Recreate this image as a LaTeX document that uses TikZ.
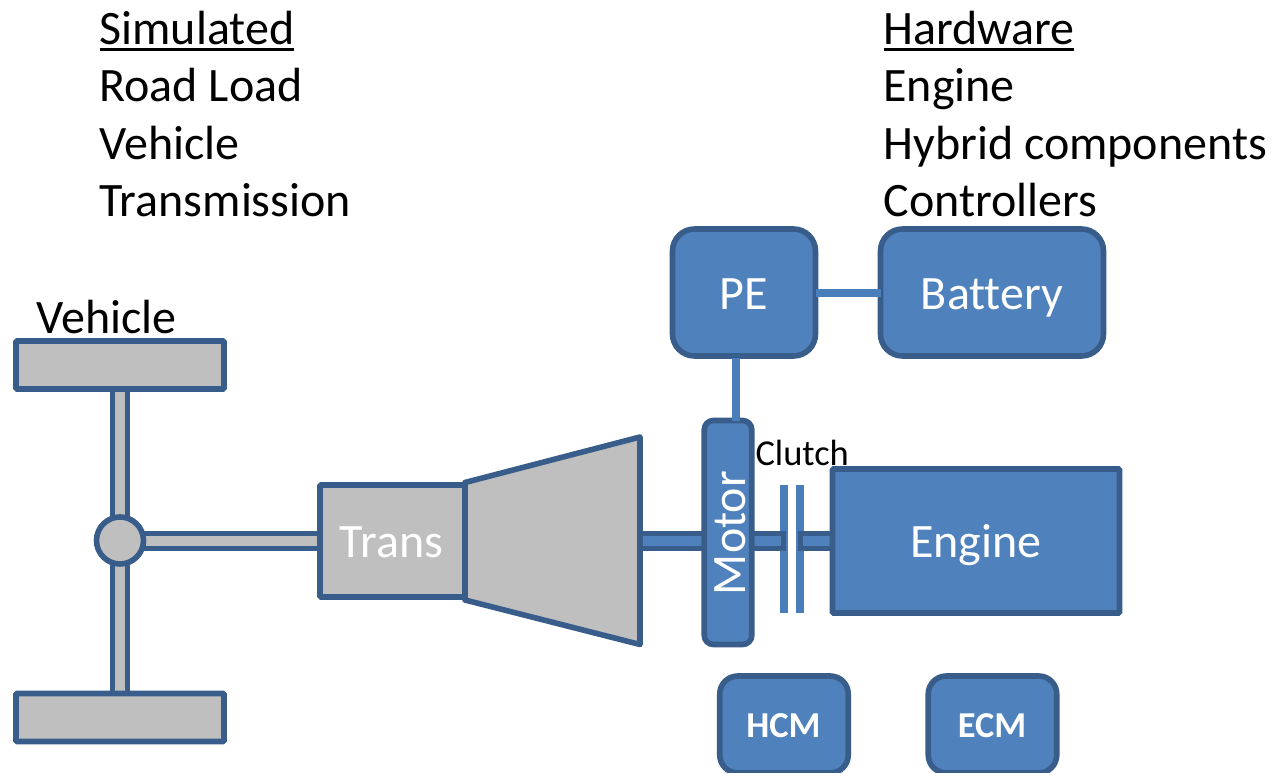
\documentclass[tikz,border=0pt]{standalone}
\usepackage{fontspec}
\setmainfont[Ligatures=NoCommon]{Carlito}
\definecolor{bfill}{HTML}{4F81BD}
\definecolor{bline}{HTML}{385D8A}
\definecolor{bconn}{HTML}{4A7EBB}
\definecolor{gfill}{HTML}{BFBFBF}
\newcommand\ulined[1]{\setbox0=\hbox{#1}\rlap{\rule[-6.5pt]{\wd0}{3pt}}\box0}
\tikzset{
  x=1pt,y=-1pt,
  every node/.style={inner sep=0pt,outer sep=0pt},
  big/.style={font=\fontsize{48}{48}\selectfont},
  txt/.style={big,anchor=base west,text=black},
  wlabel/.style={big,text=white},
  bbox/.style={draw=bline,line width=5.6pt,fill=bfill,rounded corners=22pt},
  gbox/.style={draw=bline,line width=5.6pt,fill=gfill,rounded corners=1pt},
  conn/.style={draw=bconn,line width=8pt},
  gshaft/.style={draw=bline,line width=5.2pt,double=gfill,double distance=10pt},
  bshaft/.style={draw=bline,line width=5.2pt,double=bfill,double distance=10pt,line cap=rect},
  plate/.style={fill=bconn,minimum width=8pt,minimum height=128pt},
  smallbold/.style={text=white,font=\fontsize{36.5}{36.5}\selectfont\bfseries},
}
\begin{document}
\begin{tikzpicture}
\useasboundingbox (0,0) rectangle (1272,773);
% headings and lists
\node[txt] (t1) at (99.5,45) {\ulined{Simulated}};
\node[txt] (t2) at (99.5,102) {Road Load};
\node[txt] (t3) at (99.5,160) {Vehicle};
\node[txt] (t4) at (99.5,216.5) {Transmission};
\node[txt] (h1) at (883.5,45) {\ulined{Hardware}};
\node[txt] (h2) at (883.5,102) {Engine};
\node[txt] (h3) at (883.5,160) {Hybrid components};
\node[txt] (h4) at (883.5,216.5) {Controllers};
\node[txt] (vlab) at (36.5,333) {Vehicle};
% named anchors
\coordinate (coneE) at (640,541);
\coordinate (clL) at (776,541);
\coordinate (clR) at (808,541);
\coordinate (hubC) at (120,540.5);
\coordinate (wtC) at (120,365);
\coordinate (wbC) at (120,717.5);
\coordinate (trC) at (392,541);
% grey shafts under wheels, hub and trans
\draw[gshaft] (wtC) -- (wbC);
\draw[gshaft] (hubC |- trC) -- (trC);
\node[gbox,minimum width=208pt,minimum height=48pt] (wt) at (wtC) {};
\node[gbox,minimum width=208pt,minimum height=48pt] (wb) at (wbC) {};
\node[draw=bline,line width=5.6pt,fill=gfill,circle,minimum size=47pt] (hub) at (hubC) {};
% blue shafts and clutch under the housings
\node[plate] (plA) at (784,549) {};
\node[plate] (plB) at (800,549) {};
\draw[bshaft] (coneE) -- (730,541);
\draw[bshaft] (730,541) -- (clL);
\draw[bshaft] (clR) -- (850,541);
% cone and trans
\draw[draw=bline,line width=5.6pt,fill=gfill,line join=round] (465,482.5) -- (640,437) -- (640,644.5) -- (465,600) -- cycle;
\node[gbox,minimum width=145pt,minimum height=112pt] (trans) at (392.5,541) {};
\node[wlabel] (translab) at (391.5,542) {Trans};
% power electronics
\node[bbox,minimum width=143pt,minimum height=127pt] (pe) at (744,292.5) {};
\node[bbox,minimum width=223pt,minimum height=127pt] (bat) at (992,292.5) {};
\node[draw=bline,line width=5.6pt,fill=bfill,rounded corners=9pt,minimum width=47.5pt,minimum height=224pt] (motor) at (728,532.5) {};
\draw[conn] (736,358) -- (736,421);
\draw[conn] (pe.east |- 0,293) -- (bat.west |- 0,293);
\node[wlabel] (pelab) at (744,294.5) {PE};
\node[wlabel] (batlab) at (992,298) {Battery};
\node[wlabel,rotate=90] (motlab) at (730.5,533) {Motor};
\node[gbox,fill=bfill,minimum width=287pt,minimum height=144pt] (eng) at (976,541) {};
\node[wlabel] (englab) at (976,545) {Engine};
\node[txt,font=\fontsize{36.5}{36.5}\selectfont] (cl) at (755.5,465) {Clutch};
\node[bbox,rounded corners=18pt,minimum width=128.5pt,minimum height=97pt] (hcm) at (784,724.5) {};
\node[bbox,rounded corners=18pt,minimum width=128.5pt,minimum height=97pt] (ecm) at (992.5,724.5) {};
\node[smallbold] (hl) at (783.5,726) {HCM};
\node[smallbold] (el) at (992,726) {ECM};
\end{tikzpicture}
\end{document}
